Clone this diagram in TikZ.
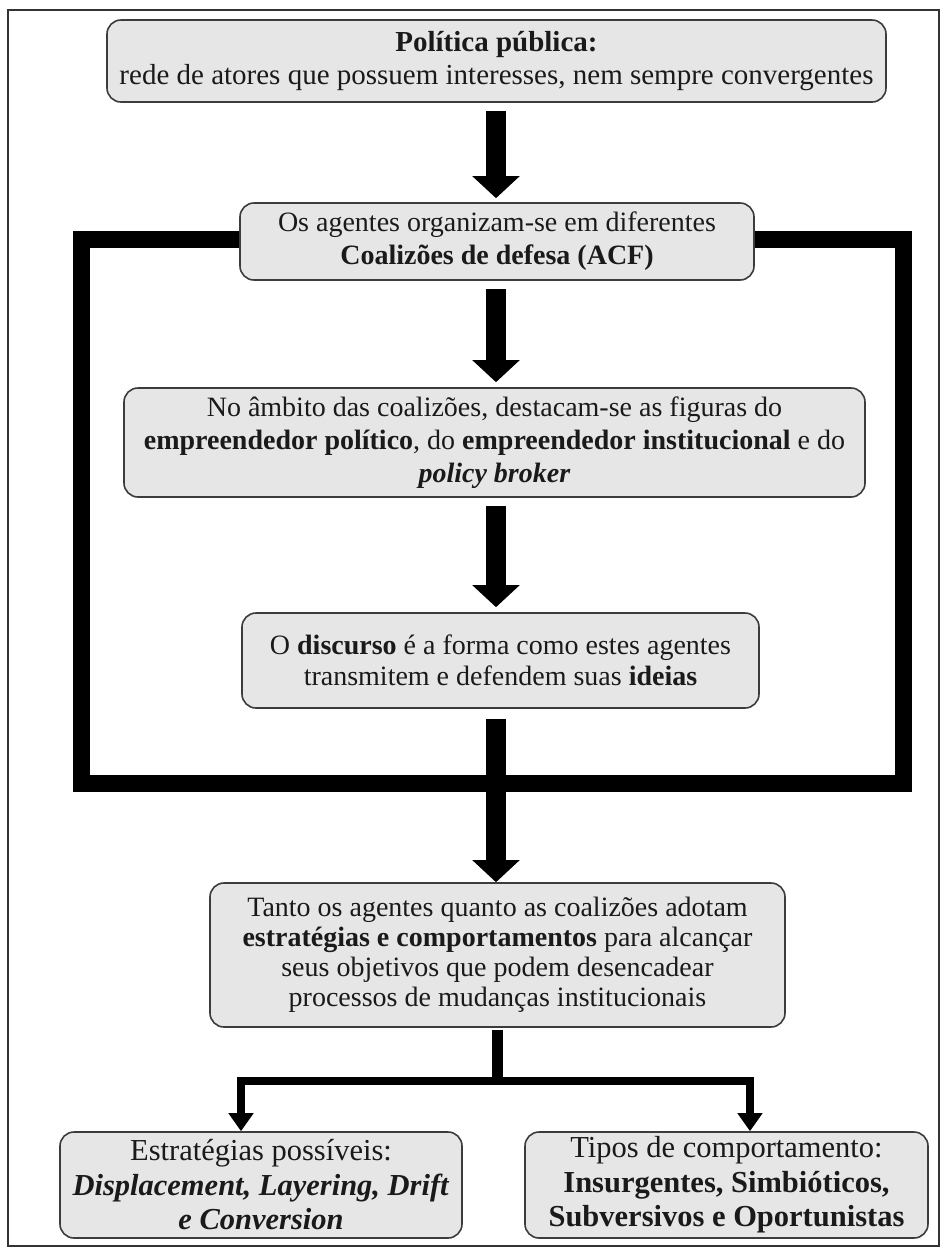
\documentclass[tikz,border=0pt]{standalone}
\usepackage{fontspec}
\setmainfont{Liberation Serif}
\usetikzlibrary{arrows.meta,calc}
\definecolor{boxfill}{HTML}{E6E6E6}
\definecolor{boxline}{HTML}{3C3C3C}
\definecolor{txt}{HTML}{1A1A1A}
\definecolor{frameline}{HTML}{333333}
\begin{document}
\begin{tikzpicture}[x=0.5pt,y=-0.5pt,
  box/.style={draw=boxline, line width=0.8pt, fill=boxfill, rounded corners=7pt,
    inner sep=0pt, align=center, text=txt, font=\fontsize{14}{16.5}\selectfont},
  bigarrow/.style={line width=10pt, draw=black, -{Triangle[width=23pt,length=11pt]}},
  thickframe/.style={line width=8.5pt, draw=black, line join=miter},
  stemline/.style={line width=5.5pt, draw=black},
  branch/.style={line width=4pt, draw=black, line join=miter,
    {Triangle[width=12pt,length=9pt]}-{Triangle[width=12pt,length=9pt]}}]
\useasboundingbox (0,0) rectangle (943,1250);
\fill[white] (0,0) rectangle (943,1250);
% outer thin frame
\draw[frameline, line width=1pt] (8,10) rectangle (939,1246);
% thick coalition frame
\coordinate (ftl) at (81.5,239);
\coordinate (fbr) at (903,783.5);
\draw[thickframe] (ftl) rectangle (fbr);
% arrow axis
\coordinate (ax) at (496,0);
% boxes
\node[box, minimum width=389.5pt, minimum height=41pt, font=\fontsize{14.5}{16.5}\selectfont] (b1) at (496.5,61)
  {\textbf{Política pública:}\\rede de atores que possuem interesses, nem sempre convergentes};
\node[box, minimum width=257pt, minimum height=38.5pt] (b2) at (497,241.5)
  {Os agentes organizam-se em diferentes\\\textbf{Coalizões de defesa (ACF)}};
\node[box, minimum width=370.5pt, minimum height=54.5pt] (b3) at (494.5,442.5)
  {No âmbito das coalizões, destacam-se as figuras do\\\textbf{empreendedor político}, do \textbf{empreendedor institucional} e do\\\textbf{\textit{policy broker}}};
\node[box, minimum width=258.5pt, minimum height=47.5pt, font=\fontsize{14}{15.5}\selectfont] (b4) at (500.5,660.5)
  {O \textbf{discurso} é a forma como estes agentes\\transmitem e defendem suas \textbf{ideias}};
\node[box, minimum width=287.5pt, minimum height=72pt, font=\fontsize{14}{15}\selectfont] (b5) at (497.5,955)
  {Tanto os agentes quanto as coalizões adotam\\\textbf{estratégias e comportamentos} para alcançar\\seus objetivos que podem desencadear\\processos de mudanças institucionais};
\node[box, minimum width=201pt, minimum height=53pt, font=\fontsize{15.25}{17.25}\selectfont] (b6) at (261,1185)
  {Estratégias possíveis:\\\textbf{\textit{Displacement, Layering, Drift}}\\\textbf{\textit{e Conversion}}};
\node[box, minimum width=201.5pt, minimum height=53pt, font=\fontsize{15.25}{17.25}\selectfont] (b7) at (726.5,1185)
  {Tipos de comportamento:\\\textbf{Insurgentes, Simbióticos,}\\\textbf{Subversivos e Oportunistas}};
% big arrows
\draw[bigarrow] ($(b1.south -| ax)+(0,8)$) -- ($(b2.north -| ax)+(0,-4)$);
\draw[bigarrow] ($(b2.south -| ax)+(0,8)$) -- ($(b3.north -| ax)+(0,-5)$);
\draw[bigarrow] ($(b3.south -| ax)+(0,8)$) -- ($(b4.north -| ax)+(0,-5)$);
\draw[bigarrow] ($(b4.south -| ax)+(0,10)$) -- (b5.north -| ax);
% bottom tree
\coordinate (jn) at (497,1080.5);
\coordinate (lj) at (241,1080.5);
\coordinate (rj) at (750,1080.5);
\draw[stemline] ($(b5.south -| jn)+(0,2)$) -- (jn);
\draw[branch] (b6.north -| lj) -- (lj) -- (rj) -- (b7.north -| rj);
\end{tikzpicture}
\end{document}
